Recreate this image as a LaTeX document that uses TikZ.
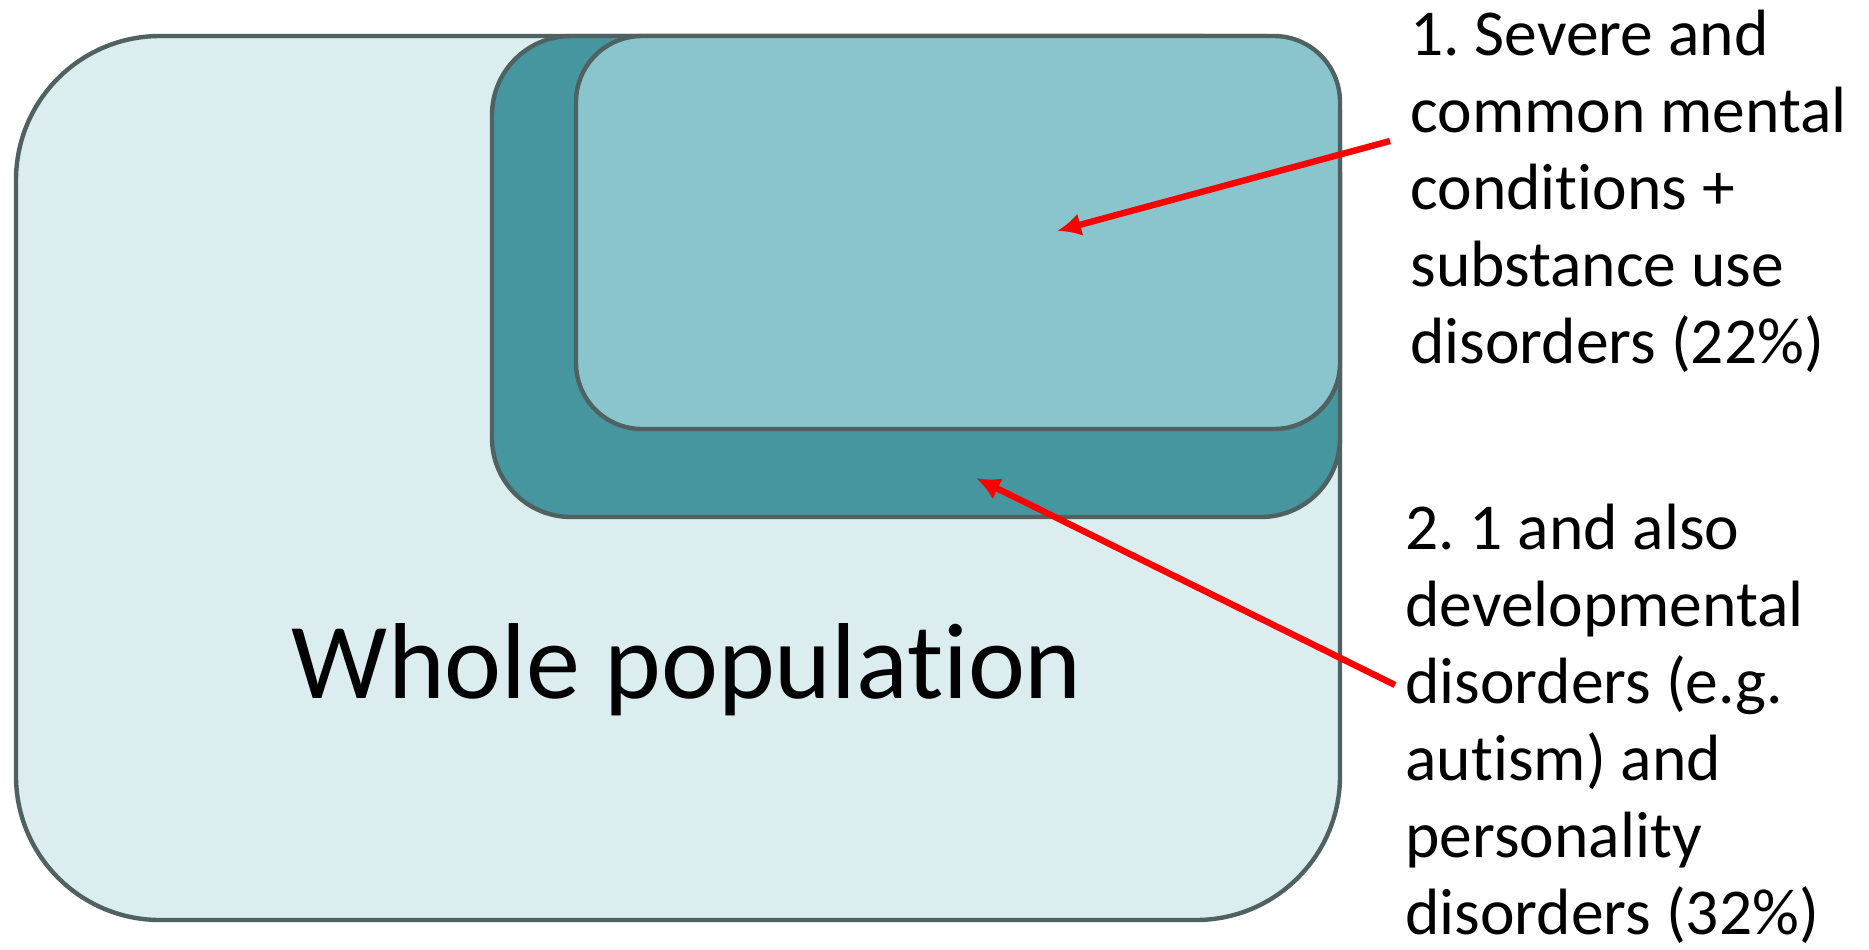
\documentclass[tikz,border=0pt]{standalone}
\usepackage{fontspec}
\setmainfont[Ligatures=NoCommon]{Carlito}
\usetikzlibrary{arrows.meta,fit}

\definecolor{popfill}{HTML}{DBEDEF}
\definecolor{widefill}{HTML}{45969F}
\definecolor{narrowfill}{HTML}{8AC5CD}
\definecolor{edgegray}{HTML}{4F6161}

\tikzset{
  setbox/.style={draw=edgegray,line width=2.2pt,inner sep=0pt},
  label/.style={anchor=base west,inner sep=0pt,align=left,
    font=\fontsize{32.75}{38.5}\selectfont},
  pointer/.style={draw=red,line width=3.2pt,-{Latex[length=12pt,width=11.5pt]}}
}

\begin{document}
\frenchspacing
\begin{tikzpicture}[x=0.5pt,y=-0.5pt]
\useasboundingbox (0,0) rectangle (1869,949);

\node[setbox,fill=popfill,rounded corners=72pt,fit={(16,36) (1340,920)}] (whole) {};
\node[setbox,fill=widefill,rounded corners=39.5pt,fit={(492,36) (1340,517)}] (wide) {};
\node[setbox,fill=narrowfill,rounded corners=33pt,fit={(576,36) (1340,429)}] (narrow) {};

\node[anchor=base,inner sep=0pt,font=\fontsize{54}{60}\selectfont] at (687,698) (wholetext) {Whole population};

% base of a multi-line label is its last line
\node[label] at (1410,363) (narrowtext) {1. Severe and\\common mental\\conditions +\\substance use\\disorders (22\%)};
\node[label] at (1405,934) (widetext) {2. 1 and also\\developmental\\disorders (e.g.\\autism) and\\personality\\disorders (32\%)};

\coordinate (narrowtail) at (1390,141);
\coordinate (narrowtip) at (1057,231);
\coordinate (widetail) at (1395,685);
\coordinate (widetip) at (976,478);

\draw[pointer] (narrowtail) -- (narrowtip);
\draw[pointer] (widetail) -- (widetip);

\end{tikzpicture}
\end{document}
